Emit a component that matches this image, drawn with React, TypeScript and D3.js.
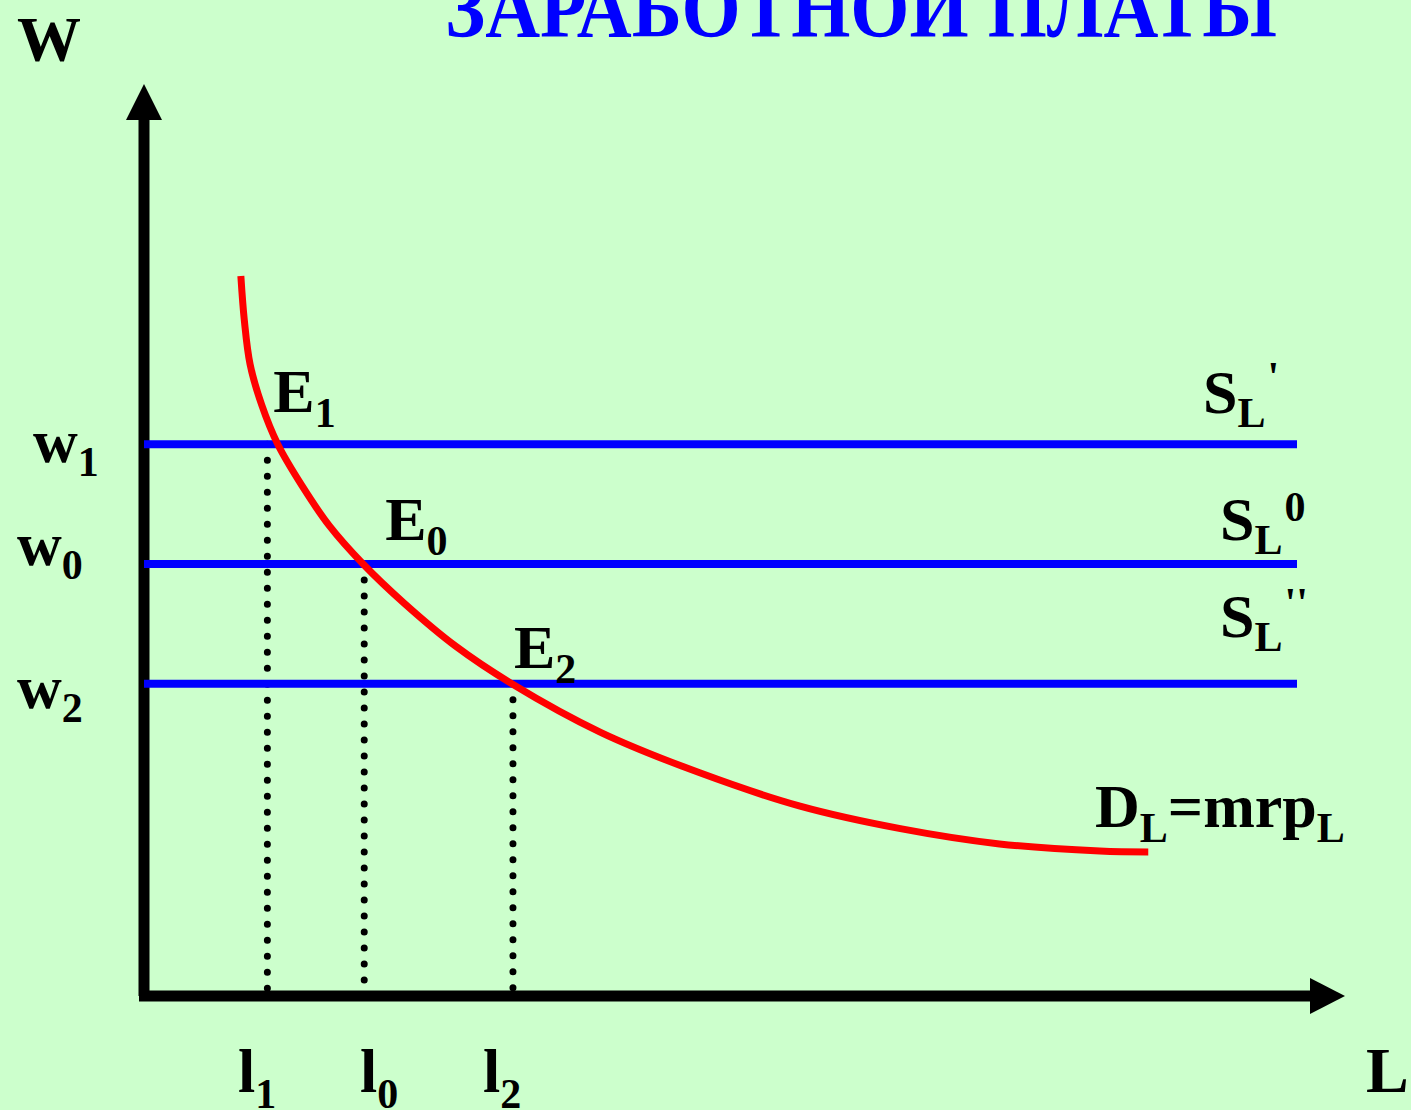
import * as d3 from 'd3';
import * as React from 'react';

// wage levels (w1, w0, w2) and matching employment (l1, l0, l2)
const wageNames = ['1', '0', '2'];
const wages = [61.3, 48.0, 34.7];
const labour = [10.7, 19.1, 32.0];

// labour demand curve D_L = mrp_L
const demandL = [8.4, 8.7, 9.2, 10.2, 11.6, 13.7, 16.1, 19.0, 22.6, 27.0, 31.9, 39.6, 48.2, 56.9, 65.6, 74.2, 82.9, 87.1];
const demandW = [80.0, 75.1, 70.2, 65.7, 61.3, 56.7, 52.2, 48.0, 43.6, 38.9, 34.7, 29.3, 24.8, 21.1, 18.6, 16.9, 16.1, 16.0];

// supply curve labels, top to bottom
const supplyMarks = ["'", '0', "''"];

const title = 'ЗАРАБОТНОЙ ПЛАТЫ';

const W = 1411;
const H = 1110;
const FONT = '"Liberation Serif", "Times New Roman", serif';
const BIG = 62;
const SMALL = 42;

export default function App() {
  const x = d3.scaleLinear().domain([0, 100]).range([144, 1297]);
  const y = d3.scaleLinear().domain([0, 100]).range([996, 96]);

  const curve = d3.line<number>()
    .x((d, i) => x(demandL[i]))
    .y(d => y(d))
    .curve(d3.curveCatmullRom.alpha(0.5));

  const x0 = x(0);
  const y0 = y(0);

  // label placement (pixels)
  const wLabelX = [33, 17, 17];
  const wLabelDy = [18, 1, 24];
  const lLabelX = [238, 360, 483];
  const eLabelDx = [6, 21, 1];
  const eLabelDy = [-32, -24, -16];
  const sLabelX = [1203, 1220, 1220];
  const sLabelY = [413, 540, 637];
  const supDy = [-36, -33, -34];

  const txt = { fontFamily: FONT, fontWeight: 'bold' as const, fill: '#000' };

  return (
    <svg width={W} height={H} style={{ position: 'absolute', left: 0, top: 0, background: '#ccffcc' }}>
      <rect width={W} height={H} fill="#ccffcc" />

      <text x={445} y={37} fontFamily={FONT} fontWeight="bold" fontSize={84} fill="#0000ff"
        textLength={832} lengthAdjust="spacingAndGlyphs">{title}</text>

      {/* axes */}
      <line x1={x0} y1={y0} x2={x0} y2={118} stroke="#000" strokeWidth={11} />
      <path d={`M${x0 - 18},120 L${x0},84 L${x0 + 18},120 Z`} fill="#000" />
      <line x1={x0 - 5} y1={y0} x2={1312} y2={y0} stroke="#000" strokeWidth={11} />
      <path d={`M1310,${y0 - 18} L1345,${y0} L1310,${y0 + 18} Z`} fill="#000" />

      {/* drop lines */}
      {labour.map((l, i) => (
        <line key={'d' + i} x1={x(l)} x2={x(l)} y1={y(wages[i])} y2={y0}
          stroke="#000" strokeWidth={7} strokeLinecap="round" strokeDasharray="0 16" />
      ))}

      {/* supply lines */}
      {wages.map((w, i) => (
        <line key={'s' + i} x1={x0} x2={x(100)} y1={y(w)} y2={y(w)} stroke="#0000ff" strokeWidth={8} />
      ))}

      {/* demand */}
      <path d={curve(demandW) || ''} fill="none" stroke="#ff0000" strokeWidth={7} />

      {/* axis titles */}
      <text x={17} y={61} fontSize={64} {...txt}>W</text>
      <text x={1366} y={1092} fontSize={64} {...txt}>L</text>

      {/* wage labels */}
      {wages.map((w, i) => (
        <text key={'wl' + i} x={wLabelX[i]} y={y(w) + wLabelDy[i]} fontSize={BIG} {...txt}>
          w<tspan fontSize={SMALL} dy={14}>{wageNames[i]}</tspan>
        </text>
      ))}

      {/* employment labels */}
      {labour.map((l, i) => (
        <text key={'ll' + i} x={lLabelX[i]} y={1092} fontSize={BIG} {...txt}>
          l<tspan fontSize={SMALL} dy={16}>{wageNames[i]}</tspan>
        </text>
      ))}

      {/* equilibrium labels */}
      {labour.map((l, i) => (
        <text key={'el' + i} x={x(l) + eLabelDx[i]} y={y(wages[i]) + eLabelDy[i]} fontSize={BIG} {...txt}>
          E<tspan fontSize={SMALL} dy={15}>{wageNames[i]}</tspan>
        </text>
      ))}

      {/* supply labels */}
      {supplyMarks.map((m, i) => (
        <text key={'sl' + i} x={sLabelX[i]} y={sLabelY[i]} fontSize={BIG} {...txt}>
          S<tspan fontSize={SMALL} dy={14}>L</tspan>
          <tspan fontSize={SMALL} dy={supDy[i]} dx={2}>{m}</tspan>
        </text>
      ))}

      {/* demand label */}
      <text x={1095} y={827} fontSize={BIG} {...txt}>
        D<tspan fontSize={SMALL} dy={15}>L</tspan>
        <tspan dy={-15}>=mrp</tspan>
        <tspan fontSize={SMALL} dy={15}>L</tspan>
      </text>
    </svg>
  );
}
